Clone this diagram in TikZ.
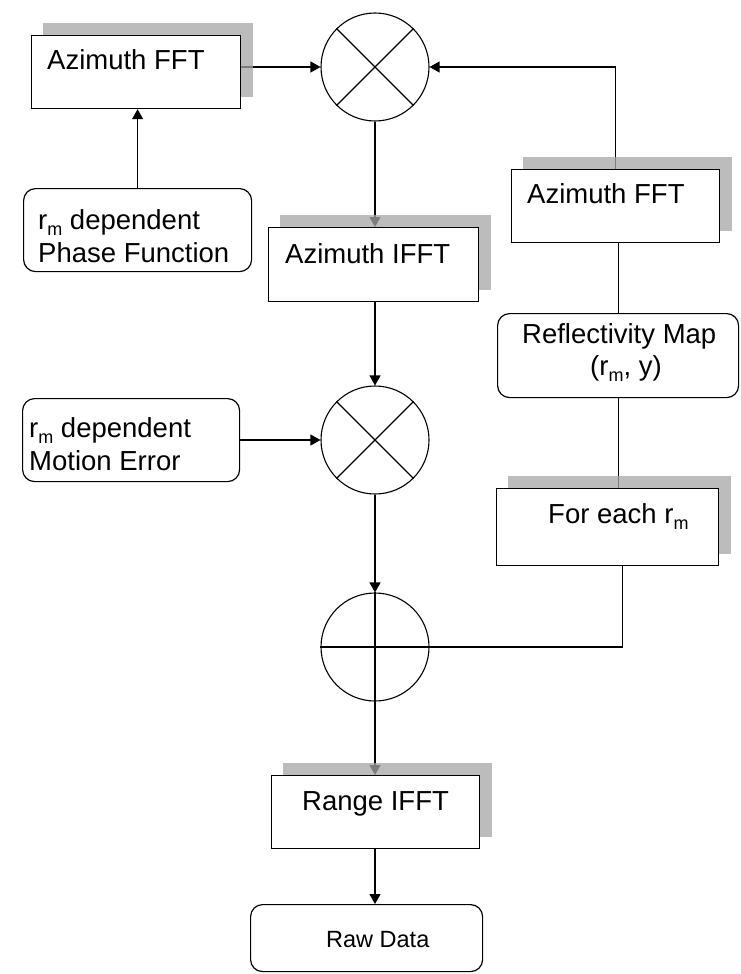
\documentclass[tikz,border=0pt]{standalone}
\usepackage{fontspec}
\setmainfont{Liberation Sans}
\usetikzlibrary{arrows.meta}
\pgfdeclarelayer{conn}
\pgfdeclarelayer{shad}
\pgfsetlayers{conn,shad,main}
\newcommand\subm{\raisebox{-6pt}{\fontsize{18}{18}\selectfont m}}
\begin{document}
\begin{tikzpicture}[x=1pt,y=-1pt,
  box/.style={draw, line width=1.2pt, fill=white, rectangle, inner sep=0pt, anchor=north west},
  rbox/.style={box, rounded corners=12pt},
  circ/.style={draw, line width=1.1pt, circle, minimum size=108pt, inner sep=0pt, fill=white},
  txt/.style={anchor=base west, inner sep=0pt, font=\fontsize{27.5}{33}\selectfont},
  smalltxt/.style={anchor=base west, inner sep=0pt, font=\fontsize{23.5}{28}\selectfont},
  ln/.style={line width=1.2pt},
  arr/.style={ln, -{Triangle[length=10pt,width=11pt]}},
  shd/.style={fill=black!35, fill opacity=0.75}]
\useasboundingbox (0,0) rectangle (741,974);

% boxes
\node[box, minimum width=209pt, minimum height=73pt] (az1) at (31,35) {};
\node[box, minimum width=208pt, minimum height=73pt] (az2) at (511,169) {};
\node[box, minimum width=210pt, minimum height=74pt] (ifft) at (268,227) {};
\node[box, minimum width=222pt, minimum height=77pt] (fe) at (496,488) {};
\node[box, minimum width=208pt, minimum height=73pt] (rng) at (271,775) {};
\node[rbox, minimum width=228pt, minimum height=83pt] (phase) at (23,188) {};
\node[rbox, minimum width=217pt, minimum height=83pt] (motion) at (22,398) {};
\node[rbox, minimum width=241pt, minimum height=84pt] (refl) at (497,313) {};
\node[rbox, minimum width=232pt, minimum height=67pt] (raw) at (250,904) {};

% circles
\node[circ] (m1) at (375,67) {};
\node[circ] (m2) at (375,440) {};
\node[circ] (s1) at (375,647) {};
\draw[line width=1.1pt] (m1.north west) -- (m1.south east) (m1.north east) -- (m1.south west);
\draw[line width=1.1pt] (m2.north west) -- (m2.south east) (m2.north east) -- (m2.south west);
\draw[line width=1.1pt] (s1.north) -- (s1.south) (s1.west) -- (s1.east);

% texts
\node[txt] (t1) at (47,70) {Azimuth FFT};
\node[txt] (t2) at (527,203) {Azimuth FFT};
\node[txt] (t3) at (285,263) {Azimuth IFFT};
\node[txt] (t4) at (548,523) {For each r\subm};
\node[txt] (t5) at (302,810) {Range IFFT};
\node[smalltxt] (t6) at (326,947) {Raw Data};
\node[txt] (t7a) at (38,229) {r\subm\ dependent};
\node[txt] (t7b) at (38,262) {Phase Function};
\node[txt] (t8a) at (29,437) {r\subm\ dependent};
\node[txt] (t8b) at (29,470) {Motion Error};
\node[txt] (t9a) at (522,343) {Reflectivity Map};
\node[txt] (t9b) at (590,375) {(r\subm, y)};

% shadows
\begin{pgfonlayer}{shad}
\foreach \b in {az1,az2,ifft,fe,rng}{
  \fill[shd] ([shift={(12,-12)}]\b.south west) rectangle ([shift={(12,-12)}]\b.north east);
}
\end{pgfonlayer}

% connectors
\begin{pgfonlayer}{conn}
\draw[arr] (m1.west -| az1.east) -- (m1.west);
\draw[arr] (az2.north) -- (az2.north |- m1.east) -- (m1.east);
\draw[arr] (m1.south) -- (m1.south |- ifft.north);
\draw[arr] (m2.north |- ifft.south) -- (m2.north);
\draw[arr] (m2.south) -- (s1.north);
\draw[arr] (s1.south) -- (s1.south |- rng.north);
\draw[arr] (s1.south |- rng.south) -- (s1.south |- raw.north);
\draw[arr] (phase.north) -- (phase.north |- az1.south);
\draw[arr] (motion.east |- m2.west) -- (m2.west);
\draw[ln] (refl.north |- az2.south) -- (refl.north);
\draw[ln] (refl.south) -- (refl.south |- fe.north);
\draw[ln] ([xshift=4pt]refl.south |- fe.south) -- ([xshift=4pt]refl.south |- s1.east) -- (s1.east);
\end{pgfonlayer}
\end{tikzpicture}
\end{document}
